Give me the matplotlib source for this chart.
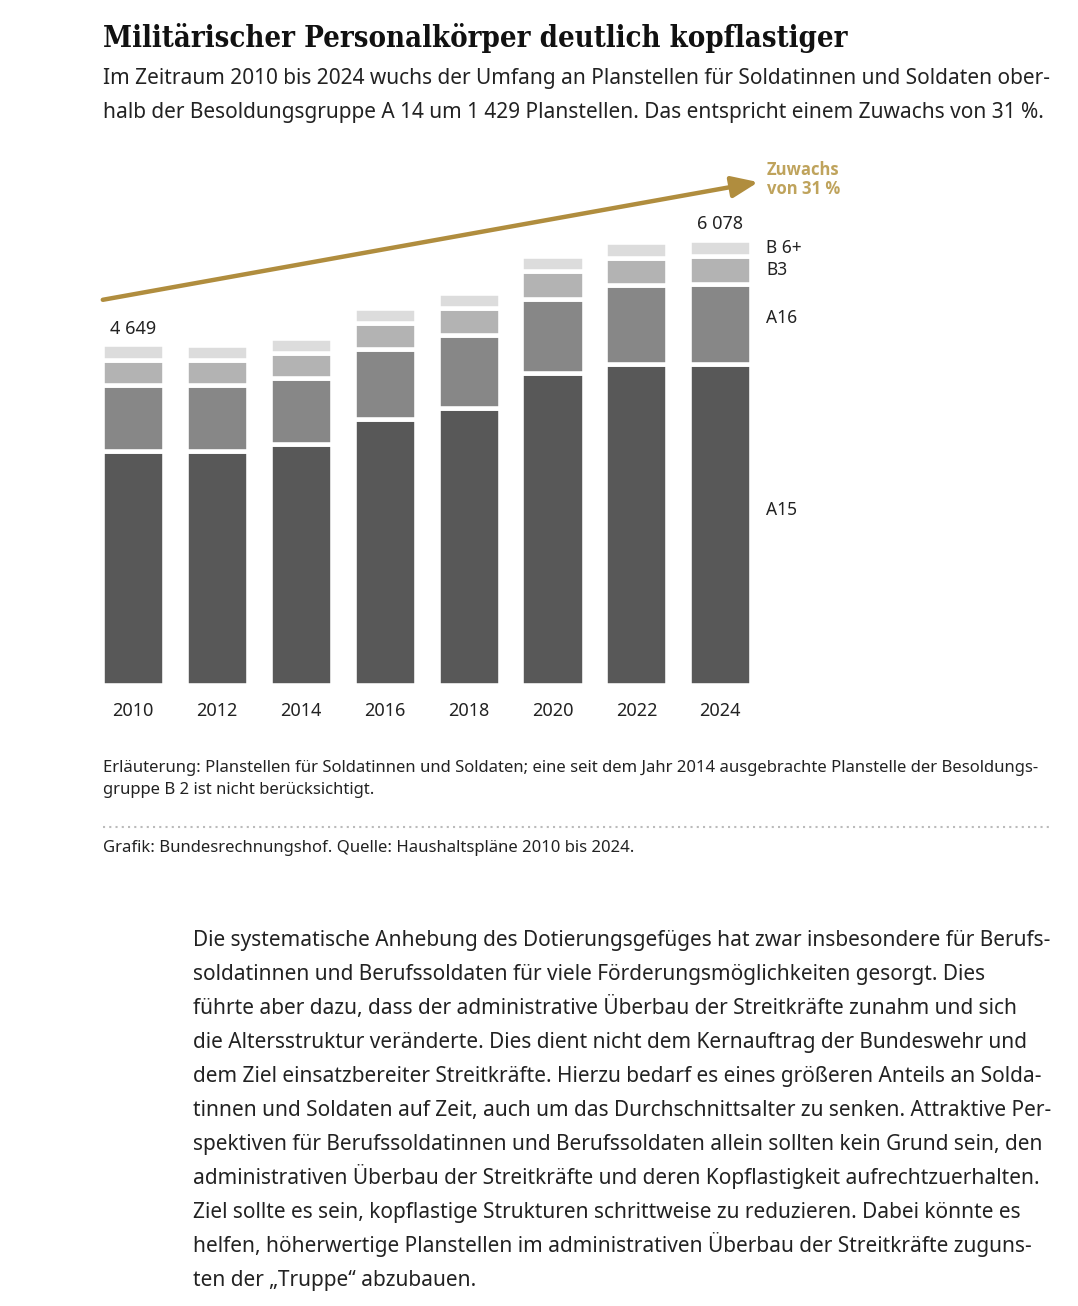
# Planstellen oberhalb A 14 - gestapelte Balken
import numpy as np
import matplotlib.pyplot as plt

plt.rcParams['font.family'] = ['Noto Sans', 'DejaVu Sans']

years = ['2010', '2012', '2014', '2016', '2018', '2020', '2022', '2024']
a15 = [3201, 3195, 3285, 3628, 3788, 4254, 4386, 4377]
a16 = [894, 895, 906, 958, 985, 1020, 1074, 1101]
b3 = [341, 340, 346, 360, 378, 380, 373, 383]
b6 = [213, 208, 199, 199, 203, 205, 217, 217]
groups = ['A15', 'A16', 'B3', 'B 6+']
colors = ['#585858', '#878787', '#b3b3b3', '#dcdcdc']

W, H = 1078, 1306
fig = plt.figure(figsize=(W / 100, H / 100), dpi=100)

def px(x, y):
    return x / W, 1 - y / H

# chart area
ax = fig.add_axes([102.8 / W, (H - 685) / H, 647.7 / W, 535 / H])
x = np.arange(len(years))
series = [a15, a16, b3, b6]
bottom = np.zeros(len(years))
for vals, c in zip(series, colors):
    ax.bar(x, vals, bottom=bottom, width=0.74, color=c,
           edgecolor='white', linewidth=3.3)
    bottom += np.array(vals)
totals = bottom

ax.set_xlim(-0.36, 7.36)
ax.set_ylim(0, 7303)
ax.axis('off')

for i, yr in enumerate(years):
    ax.text(i, -360, yr, ha='center', va='center', fontsize=13, color='#222222')

def fmt(v):
    return f"{int(round(v)):,}".replace(',', ' ')

for i in [0, len(years) - 1]:
    ax.text(i, totals[i] + 215, fmt(totals[i]), ha='center', va='center',
            fontsize=13, color='#222222')

# group labels next to the last bar
last = [s[-1] for s in series]
cum = np.cumsum([0] + last)
offs = [200, 80, 0, 0]
for k, g in enumerate(groups):
    mid = (cum[k] + cum[k + 1]) / 2 + offs[k]
    ax.text(7.55, mid, g, ha='left', va='center', fontsize=12.5, color='#222222')

# growth arrow
gold = '#b08d3e'
ax.annotate('', xy=(1.012, 0.94), xytext=(0.0, 0.72), xycoords='axes fraction',
            textcoords='axes fraction', annotation_clip=False,
            arrowprops=dict(arrowstyle='-|>,head_length=1.6,head_width=0.65',
                            color=gold, lw=3.2, shrinkA=0, shrinkB=0))
for j, t in enumerate(['Zuwachs', 'von 31 %']):
    fig.text(*px(767, 170 + 19 * j), t, family=['Open Sans', 'DejaVu Sans'],
             fontsize=12, fontweight='bold', color='#bfa35c', va='center')

# title and intro
fig.text(*px(103, 47), 'Militärischer Personalkörper deutlich kopflastiger',
         family=['DejaVu Serif'], fontstretch='condensed', fontweight='bold',
         fontsize=21, color='#111111', va='baseline')

def lines(items, x0, y0, step, size):
    # baseline-aligned so umlauts do not shift lines
    for j, line in enumerate(items):
        fig.text(*px(x0, y0 + step * j), line, fontsize=size, color='#222222',
                 va='baseline')

intro = ['Im Zeitraum 2010 bis 2024 wuchs der Umfang an Planstellen für Soldatinnen und Soldaten ober-',
         'halb der Besoldungsgruppe A 14 um 1 429 Planstellen. Das entspricht einem Zuwachs von 31 %.']
lines(intro, 103, 84, 34, 15)

# notes
notes = ['Erläuterung: Planstellen für Soldatinnen und Soldaten; eine seit dem Jahr 2014 ausgebrachte Planstelle der Besoldungs-',
         'gruppe B 2 ist nicht berücksichtigt.']
lines(notes, 103, 772, 22, 12)
fig.add_artist(plt.Line2D([103 / W, 1053 / W], [1 - 827 / H] * 2, color='#bbbbbb',
                          lw=1.5, ls=(0, (1, 2))))
lines(['Grafik: Bundesrechnungshof. Quelle: Haushaltspläne 2010 bis 2024.'], 103, 852, 22, 12)

body = ['Die systematische Anhebung des Dotierungsgefüges hat zwar insbesondere für Berufs-',
        'soldatinnen und Berufssoldaten für viele Förderungsmöglichkeiten gesorgt. Dies',
        'führte aber dazu, dass der administrative Überbau der Streitkräfte zunahm und sich',
        'die Altersstruktur veränderte. Dies dient nicht dem Kernauftrag der Bundeswehr und',
        'dem Ziel einsatzbereiter Streitkräfte. Hierzu bedarf es eines größeren Anteils an Solda-',
        'tinnen und Soldaten auf Zeit, auch um das Durchschnittsalter zu senken. Attraktive Per-',
        'spektiven für Berufssoldatinnen und Berufssoldaten allein sollten kein Grund sein, den',
        'administrativen Überbau der Streitkräfte und deren Kopflastigkeit aufrechtzuerhalten.',
        'Ziel sollte es sein, kopflastige Strukturen schrittweise zu reduzieren. Dabei könnte es',
        'helfen, höherwertige Planstellen im administrativen Überbau der Streitkräfte zuguns-',
        'ten der „Truppe“ abzubauen.']
lines(body, 193, 946, 34, 15)

fig.savefig('out.png', dpi=100, facecolor='white')
